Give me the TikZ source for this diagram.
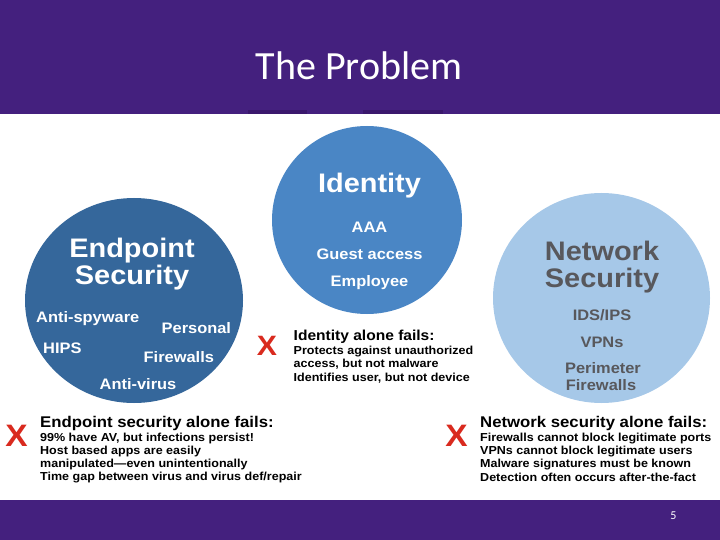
\documentclass[tikz,border=0pt]{standalone}
\usepackage{fontspec}
\usetikzlibrary{shapes.geometric}
\newfontfamily\af{Liberation Sans}[FakeStretch=1.08]
\newfontfamily\cf{Carlito}
\definecolor{barpurple}{RGB}{68,32,126}
\definecolor{tabpurple}{RGB}{58,24,108}
\definecolor{epblue}{RGB}{53,103,155}
\definecolor{idblue}{RGB}{74,134,197}
\definecolor{nwblue}{RGB}{166,200,232}
\definecolor{nwgray}{RGB}{88,88,92}
\definecolor{xred}{RGB}{217,42,30}
\begin{document}
\begin{tikzpicture}[x=1pt,y=-1pt,
  txt/.style={inner sep=0pt, anchor=base, font=\af\bfseries},
  bighead/.style={txt, font=\af\bfseries\fontsize{26.8}{30}\selectfont},
  item/.style={txt, font=\af\bfseries\fontsize{15.2}{17}\selectfont},
  failhead/.style={txt, anchor=base west, text=black, font=\af\bfseries\fontsize{15.5}{18}\selectfont},
  body/.style={txt, anchor=base west, text=black, font=\af\bfseries\fontsize{11.6}{13}\selectfont},
  xmark/.style={txt, text=xred},
  blob/.style={ellipse, draw=none, inner sep=0pt}]
\useasboundingbox (0,0) rectangle (720,540);
\fill[white] (0,0) rectangle (720,540);
% bars
\fill[barpurple] (0,0) rectangle (720,114);
\fill[tabpurple] (248,110) rectangle (307,114);
\fill[tabpurple] (363,110) rectangle (443,114);
\fill[barpurple] (0,500) rectangle (720,540);
\node[inner sep=0pt, anchor=base, text=white, font=\cf\fontsize{40}{44}\selectfont] (title) at (359,80) {The Problem};
\node[inner sep=0pt, anchor=base, text=white, font=\cf\fontsize{12}{14}\selectfont] (pnum) at (673.5,519) {5};

% circles
\node[blob, fill=epblue, minimum width=218pt, minimum height=205pt] (ep) at (134,300.5) {};
\node[blob, fill=idblue, minimum width=190pt, minimum height=188pt] (id) at (367,220) {};
\node[blob, fill=nwblue, minimum width=217pt, minimum height=210pt] (nw) at (601.5,298) {};

% endpoint contents
\node[bighead, text=white] (ep1) at (132,258) {Endpoint};
\node[bighead, text=white] (ep2) at (132,284.5) {Security};
\node[item, text=white, anchor=base west] (epa) at (36,322) {Anti-spyware};
\node[item, text=white, anchor=base west] (epb) at (161.5,333) {Personal};
\node[item, text=white, anchor=base west] (epc) at (43,353) {HIPS};
\node[item, text=white, anchor=base west] (epd) at (143.5,362) {Firewalls};
\node[item, text=white, anchor=base west] (epe) at (99.5,389) {Anti-virus};

% identity contents
\node[bighead, text=white] (id1) at (369.5,192.5) {Identity};
\node[item, text=white] (ida) at (369.5,232.5) {AAA};
\node[item, text=white] (idb) at (369.5,259) {Guest access};
\node[item, text=white] (idc) at (369.5,286) {Employee};

% network contents
\node[bighead, text=nwgray] (nw1) at (602,260) {Network};
\node[bighead, text=nwgray] (nw2) at (602,287) {Security};
\node[item, text=nwgray] (nwa) at (602,320) {IDS/IPS};
\node[item, text=nwgray] (nwb) at (602,347) {VPNs};
\node[item, text=nwgray] (nwc) at (603,373) {Perimeter};
\node[item, text=nwgray] (nwd) at (601,390) {Firewalls};

% red crosses
\node[xmark, font=\af\bfseries\fontsize{28}{30}\selectfont] (x1) at (267,355) {X};
\node[xmark, font=\af\bfseries\fontsize{31}{33}\selectfont] (x2) at (16.5,446) {X};
\node[xmark, font=\af\bfseries\fontsize{31}{33}\selectfont] (x3) at (456.5,446) {X};

% identity fails
\node[failhead, font=\af\bfseries\fontsize{14.4}{17}\selectfont] (if0) at (293.5,340) {Identity alone fails:};
\node[body] (if1) at (293.5,354.3) {Protects against unauthorized};
\node[body] (if2) at (293.5,367.7) {access, but not malware};
\node[body] (if3) at (293.5,381) {Identifies user, but not device};

% endpoint fails
\node[failhead] (ef0) at (40,427.7) {Endpoint security alone fails:};
\node[body] (ef1) at (40,441.3) {99\% have AV, but infections persist!};
\node[body] (ef2) at (40,454.5) {Host based apps are easily};
\node[body] (ef3) at (40,467.7) {manipulated\textemdash even unintentionally};
\node[body] (ef4) at (40,480.7) {Time gap between virus and virus def/repair};

% network fails
\node[failhead] (nf0) at (480,427.7) {Network security alone fails:};
\node[body] (nf1) at (480,441) {Firewalls cannot block legitimate ports};
\node[body] (nf2) at (480,454.3) {VPNs cannot block legitimate users};
\node[body] (nf3) at (480,467.7) {Malware signatures must be known};
\node[body] (nf4) at (480,481) {Detection often occurs after-the-fact};
\end{tikzpicture}
\end{document}
